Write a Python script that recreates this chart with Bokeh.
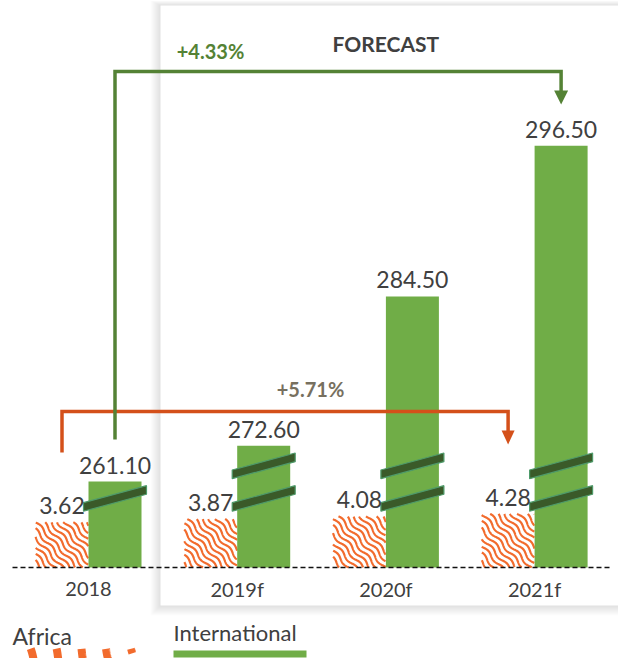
import numpy as np
from bokeh.plotting import figure
from bokeh.models import Range1d
from bokeh.core.properties import value
from bokeh.embed import file_html
from bokeh.resources import INLINE

# ---------------- data ----------------
categories = ["2018", "2019f", "2020f", "2021f"]
africa = [3.62, 3.87, 4.08, 4.28]
international = [261.10, 272.60, 284.50, 296.50]
breaks_per_bar = [1, 2, 2, 2]          # number of axis-break marks on each International bar
growth_africa = "+5.71%"
growth_international = "+4.33%"
forecast_label = "FORECAST"
legend_labels = ["Africa", "International"]

# broken axis: amount of the value range cut out at each break, and where the marks sit
break_gaps = [254.25, 8.65]
break_levels = [5.5, 8.1]

# ---------------- colours / fonts ----------------
GREEN = "#70AD47"
GREEN_DARK = "#548235"
ORANGE = "#F26B2D"
ORANGE_DARK = "#D4501A"
GREY_TXT = "#404040"
FONT = value("Lato")

# ---------------- geometry ----------------
W, H = 618, 658
SX = 148.7                # px per category
SY = 12.55                # px per display unit
X0 = -88 / SX
X1 = X0 + W / SX
Y1 = 567 / SY
Y0 = Y1 - H / SY
BW = 53 / SX              # bar width


def ix(px):   # pixel -> data x
    return X0 + px / SX


def iy(py):   # pixel -> data y
    return Y1 - py / SY


def px_of_x(x):
    return (x - X0) * SX


def py_of_y(y):
    return (Y1 - y) * SY


def display_value(v, nbreaks):
    return v - sum(break_gaps[:nbreaks])


p = figure(width=W, height=H, x_range=Range1d(X0, X1), y_range=Range1d(Y0, Y1),
           output_backend="svg", toolbar_location=None, min_border=0)
p.axis.visible = False
p.grid.visible = False
p.outline_line_color = None
p.background_fill_color = "white"
p.border_fill_color = "white"

# ---------------- forecast panel with soft shadow ----------------
for k in range(10, 0, -1):
    p.quad(left=ix(160 - k), right=ix(700), top=iy(5 - k * 0.5), bottom=iy(605 + k),
           fill_color="black", fill_alpha=0.012, line_color=None)
p.quad(left=ix(160), right=ix(700), top=iy(5), bottom=iy(605),
       fill_color="white", line_color=None)

# ---------------- wavy pattern helper ----------------
def wave_lines(left_px, top_px, w, h, spacing, amp, lam, angle_deg):
    th = np.radians(angle_deg)
    u = (np.cos(th), np.sin(th))
    n = (-np.sin(th), np.cos(th))
    R = w + h
    t = np.arange(-R, R, 0.4)
    xs, ys = [], []
    for c in np.arange(-R, R, spacing):
        off = c + amp * np.sin(2 * np.pi * t / lam)
        px = w / 2 + t * u[0] + off * n[0]
        py = h / 2 + t * u[1] + off * n[1]
        inside = (px >= 0) & (px <= w) & (py >= 0) & (py <= h)
        idx = np.where(inside)[0]
        if len(idx) < 2:
            continue
        splits = np.where(np.diff(idx) > 1)[0]
        for run in np.split(idx, splits + 1):
            if len(run) < 2:
                continue
            xs.append([ix(left_px + v) for v in px[run]])
            ys.append([iy(top_px + v) for v in py[run]])
    return xs, ys

# ---------------- bars ----------------
xi = list(range(len(categories)))
intl_disp = [display_value(v, b) for v, b in zip(international, breaks_per_bar)]

# Africa bars: orange wave pattern
for i, a in enumerate(africa):
    left_px = px_of_x(i - BW)
    top_px = py_of_y(a)
    w = BW * SX
    h = a * SY
    xs, ys = wave_lines(left_px, top_px, w, h, spacing=5.4, amp=1.4, lam=22, angle_deg=48)
    p.multi_line(xs=xs, ys=ys, line_color=ORANGE, line_width=2.2, line_cap="butt")

p.quad(left=[i for i in xi], right=[i + BW for i in xi], bottom=0, top=intl_disp,
       fill_color=GREEN, line_color=None)

# break marks
for i, nb in enumerate(breaks_per_bar):
    cx = px_of_x(i + BW / 2)
    for k in range(nb):
        cy = py_of_y(break_levels[k])
        hl, rise, th = 31.5, 8.5, 4.3
        pts = [(cx - hl, cy + rise - th), (cx + hl, cy - rise - th),
               (cx + hl, cy - rise + th), (cx - hl, cy + rise + th)]
        p.patch([ix(a) for a, b in pts], [iy(b) for a, b in pts],
                fill_color="#3A5A29", line_color="#4E9A6A", line_width=1.2)

# baseline
p.line([ix(12), ix(610)], [0, 0], line_color="#111111", line_width=1.6, line_dash="5 3")

# ---------------- value labels ----------------
p.text(x=[i - BW / 2 for i in xi], y=africa, text=[f"{v:.2f}" for v in africa],
       text_align="center", text_baseline="bottom", y_offset=-8,
       text_font=FONT, text_font_size="23px", text_color=GREY_TXT)
p.text(x=[i + BW / 2 for i in xi], y=intl_disp, text=[f"{v:.2f}" for v in international],
       text_align="center", text_baseline="bottom", y_offset=-8,
       text_font=FONT, text_font_size="23px", text_color=GREY_TXT)

# category labels
p.text(x=xi, y=[0] * len(xi), text=categories, text_align="center", text_baseline="middle",
       y_offset=21, text_font=FONT, text_font_size="20px", text_color=GREY_TXT)

# ---------------- growth connectors ----------------
# Africa (orange)
ax0 = 0 - BW / 2
ax1 = 3 - BW / 2
lvl_o = iy(411)
p.line([ax0, ax0, ax1, ax1], [iy(452), lvl_o, lvl_o, iy(431)],
       line_color=ORANGE_DARK, line_width=3.5, line_join="miter")
p.patch([ax1 - dx for dx in (6.5 / SX, -6.5 / SX, 0)], [iy(430), iy(430), iy(444)],
        fill_color=ORANGE_DARK, line_color=None)
p.text(x=[ix(310)], y=[iy(388)], text=[growth_africa], text_align="center",
       text_baseline="middle", text_font=FONT, text_font_style="bold",
       text_font_size="20px", text_color="#77705F")

# International (green)
gx0 = 0 + BW / 2
gx1 = 3 + BW / 2
lvl_g = iy(71)
p.line([gx0, gx0, gx1, gx1], [iy(439), lvl_g, lvl_g, iy(91)],
       line_color=GREEN_DARK, line_width=3.5, line_join="miter")
p.patch([gx1 - dx for dx in (7 / SX, -7 / SX, 0)], [iy(90), iy(90), iy(104)],
        fill_color=GREEN_DARK, line_color=None)
p.text(x=[ix(210)], y=[iy(50)], text=[growth_international], text_align="center",
       text_baseline="middle", text_font=FONT, text_font_style="bold",
       text_font_size="20px", text_color=GREEN_DARK)

# forecast header
p.text(x=[2.0], y=[iy(43)], text=[forecast_label], text_align="center",
       text_baseline="middle", text_font=FONT, text_font_style="bold",
       text_font_size="21px", text_color=GREY_TXT)

# ---------------- legend ----------------
p.text(x=[ix(12)], y=[iy(635)], text=[legend_labels[0]], text_align="left",
       text_baseline="middle", text_font=FONT, text_font_size="23px", text_color=GREY_TXT)
p.text(x=[ix(173)], y=[iy(632)], text=[legend_labels[1]], text_align="left",
       text_baseline="middle", text_font=FONT, text_font_size="22px", text_color=GREY_TXT)
p.quad(left=ix(173), right=ix(306), top=iy(650), bottom=iy(657),
       fill_color=GREEN, line_color=None)
lxs, lys = wave_lines(10, 648, 122, 14, spacing=25, amp=3, lam=80, angle_deg=70)
p.multi_line(xs=lxs, ys=lys, line_color=ORANGE, line_width=8, line_cap="butt")

open("out.html", "w").write(file_html(p, INLINE))
